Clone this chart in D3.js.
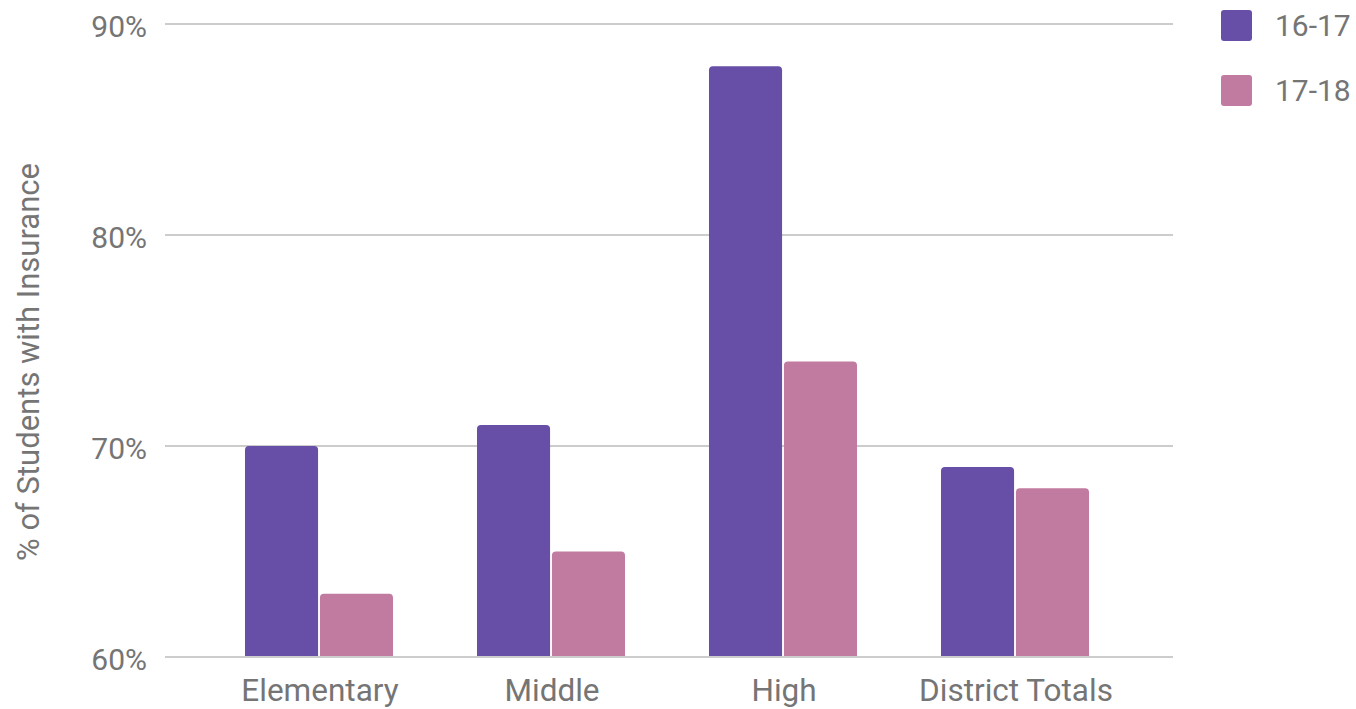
<!DOCTYPE html>
<html>
<head>
<meta charset="utf-8">
<script src="https://cdn.jsdelivr.net/npm/d3@7"></script>
<style>
  html, body { margin: 0; padding: 0; background: #fff; }
  svg { display: block; font-family: Roboto, "Noto Sans", sans-serif; }
</style>
</head>
<body>
<svg id="chart" width="1356" height="709"></svg>
<script>
// School levels and the two school years compared
const categories = ["Elementary", "Middle", "High", "District Totals"];
const seriesNames = ["16-17", "17-18"];
const values1617 = [70, 71, 88, 69];
const values1718 = [63, 65, 74, 68];
const yTicks = [60, 70, 80, 90];
const colors = ["#674ea7", "#c27ba0"];

const svg = d3.select("#chart");
const plot = { left: 165, right: 1173, top: 24, bottom: 657 };
const textColor = "#757575";
const fontSize = 30;

const y = d3.scaleLinear().domain([60, 90]).range([plot.bottom, plot.top]);
const x0 = d3.scaleBand().domain(categories)
  .range([203, 1131]).paddingInner(0.362).paddingOuter(0.181);
const x1 = d3.scaleBand().domain(seriesNames)
  .range([0, x0.bandwidth()]).paddingInner(0.025);

// Gridlines
svg.append("g").selectAll("line").data(yTicks).join("line")
  .attr("x1", plot.left).attr("x2", plot.right)
  .attr("y1", d => y(d)).attr("y2", d => y(d))
  .attr("stroke", "#cccccc").attr("stroke-width", 2);

// Y tick labels
svg.append("g").selectAll("text").data(yTicks).join("text")
  .attr("x", 147).attr("y", d => y(d))
  .attr("dy", "0.42em")
  .attr("text-anchor", "end")
  .attr("font-size", fontSize).attr("fill", textColor)
  .text(d => d + "%");

// Y axis title
svg.append("text")
  .attr("transform", "translate(39, 362) rotate(-90)")
  .attr("text-anchor", "middle")
  .attr("font-size", 31).attr("fill", textColor)
  .text("% of Students with Insurance");

// Bars with rounded top corners
function barPath(x, w, yTop, yBase, r) {
  r = Math.min(r, w / 2, yBase - yTop);
  return `M${x},${yBase}V${yTop + r}Q${x},${yTop} ${x + r},${yTop}` +
         `H${x + w - r}Q${x + w},${yTop} ${x + w},${yTop + r}V${yBase}Z`;
}

const rows = categories.map((c, i) => ({
  cat: c,
  vals: [values1617[i], values1718[i]]
}));

const groups = svg.append("g").selectAll("g").data(rows).join("g")
  .attr("transform", d => `translate(${x0(d.cat)},0)`);

groups.selectAll("path")
  .data(d => d.vals.map((v, j) => ({ s: seriesNames[j], v, j })))
  .join("path")
  .attr("d", d => barPath(x1(d.s), x1.bandwidth(), y(d.v), y(60), 4))
  .attr("fill", d => colors[d.j]);

// Baseline redrawn over bar bottoms
svg.append("line")
  .attr("x1", plot.left).attr("x2", plot.right)
  .attr("y1", y(60)).attr("y2", y(60))
  .attr("stroke", "#cccccc").attr("stroke-width", 2);

// X category labels
svg.append("g").selectAll("text").data(categories).join("text")
  .attr("x", d => x0(d) + x0.bandwidth() / 2 + 1)
  .attr("y", 701)
  .attr("text-anchor", "middle")
  .attr("font-size", 31.5).attr("fill", textColor)
  .text(d => d);

// Legend
const legend = svg.append("g").selectAll("g").data(seriesNames).join("g")
  .attr("transform", (d, i) => `translate(1221, ${10 + i * 65})`);
legend.append("rect")
  .attr("width", 31).attr("height", 31).attr("rx", 3)
  .attr("fill", (d, i) => colors[i]);
legend.append("text")
  .attr("x", 54).attr("y", 15.5).attr("dy", "0.36em")
  .attr("font-size", fontSize).attr("fill", textColor)
  .text(d => d);
</script>
</body>
</html>
